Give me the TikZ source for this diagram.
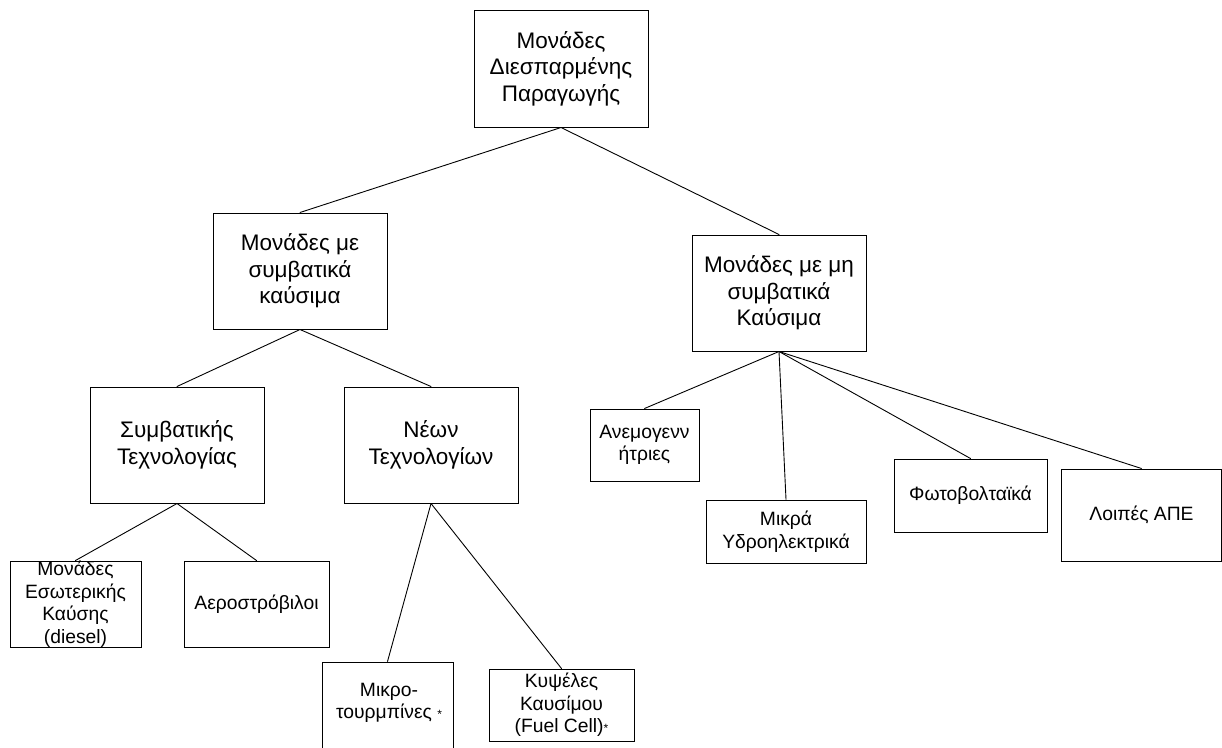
\documentclass[tikz,border=0pt]{standalone}
\usepackage{fontspec}
\setmainfont{Liberation Sans}
\begin{document}
\begin{tikzpicture}[x=1pt,y=-1pt,line cap=round,
		bigbox/.style={draw,line width=1pt,inner sep=0pt,align=center,minimum width=174pt,minimum height=116pt,font=\fontsize{22.5}{26.5}\selectfont},
		smallbox/.style={draw,line width=1pt,inner sep=0pt,align=center,font=\fontsize{19.3}{22.5}\selectfont},
		smalltext/.style={inner sep=0pt,align=center,font=\fontsize{19.3}{22.5}\selectfont},
		branch/.style={line width=0.9pt}]
		\clip (0,0) rectangle (1222,747);
		\node[bigbox,minimum height=117pt] (dg) at (561,68.5) {Μονάδες\\Διεσπαρμένης\\Παραγωγής};
		\node[bigbox] (conv) at (300,271) {Μονάδες με\\συμβατικά\\καύσιμα};
		\node[bigbox] (nonconv) at (779,293) {Μονάδες με μη\\συμβατικά\\Καύσιμα};
		\node[bigbox] (symv) at (177,445) {Συμβατικής\\Τεχνολογίας};
		\node[bigbox] (neon) at (431,445) {Νέων\\Τεχνολογίων};
		\node[smallbox,minimum width=131pt,minimum height=86pt] (eswt) at (75.5,604) {};
		\node[smalltext] (eswttext) at (eswt.center) {Μονάδες\\Εσωτερικής\\Καύσης\\(diesel)};
		\node[smallbox,minimum width=145pt,minimum height=86pt] (aero) at (256.5,604) {Αεροστρόβιλοι};
		\node[smallbox,minimum width=131pt,minimum height=100pt] (mikro) at (387.5,712) {};
		\node[smalltext] (mikrotext) at (389,703) {Μικρο-\\τουρμπίνες {\fontsize{12}{12}\selectfont*}};
		\node[smallbox,minimum width=145pt,minimum height=72pt] (kyps) at (561.5,705) {Κυψέλες\\Καυσίμου\\(Fuel Cell){\fontsize{12}{12}\selectfont*}};
		\node[smallbox,minimum width=109pt,minimum height=72pt] (anemo) at (644.5,445) {Ανεμογενν\\ήτριες};
		\node[smallbox,minimum width=160pt,minimum height=63pt] (mikra) at (786,531.5) {Μικρά\\Υδροηλεκτρικά};
		\node[smallbox,minimum width=153pt,minimum height=73pt] (foto) at (970.5,495.5) {Φωτοβολταϊκά};
		\node[smallbox,minimum width=160pt,minimum height=92pt] (loipes) at (1141.5,515) {Λοιπές ΑΠΕ};
		\draw[branch] (dg.south) -- (conv.north);
		\draw[branch] (dg.south) -- (nonconv.north);
		\draw[branch] (conv.south) -- (symv.north);
		\draw[branch] (conv.south) -- (neon.north);
		\draw[branch] (symv.south) -- (eswt.north);
		\draw[branch] (symv.south) -- (aero.north);
		\draw[branch] (neon.south) -- (mikro.north);
		\draw[branch] (neon.south) -- (kyps.north);
		\draw[branch] (nonconv.south) -- (anemo.north);
		\draw[branch] (nonconv.south) -- (mikra.north);
		\draw[branch] (nonconv.south) -- (foto.north);
		\draw[branch] (nonconv.south) -- (loipes.north);
	\end{tikzpicture}
\end{document}
